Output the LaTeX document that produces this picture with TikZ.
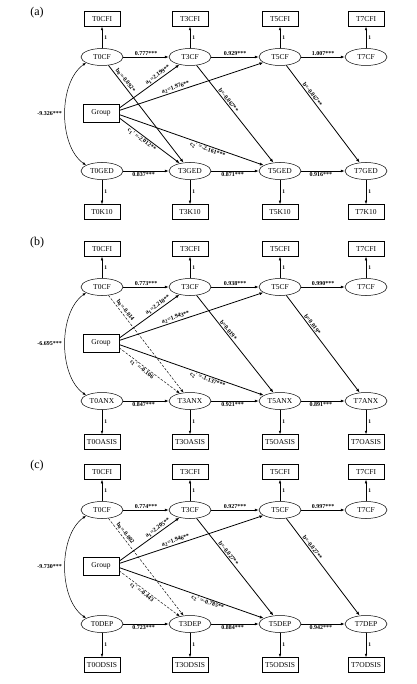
\documentclass[tikz,border=0pt]{standalone}
\usepackage{fontspec}
\setmainfont{Liberation Serif}
\usetikzlibrary{arrows.meta,shapes.geometric}
\tikzset{
  lat/.style={ellipse, draw, line width=0.5pt, minimum width=42pt, minimum height=17pt, inner sep=0pt, font=\fontsize{7.5}{8}\selectfont},
  obs/.style={rectangle, draw, line width=0.5pt, minimum width=36pt, minimum height=15pt, inner sep=1.5pt, font=\fontsize{7.5}{8}\selectfont},
  grp/.style={obs, minimum height=18pt},
  main/.style={draw, line width=0.8pt, -{Latex[length=4pt,width=3pt]}},
  indarr/.style={draw, line width=0.5pt, -{Latex[length=3.5pt,width=2.6pt]}},
  covarr/.style={draw, line width=0.5pt, {Latex[length=3.5pt,width=2.6pt]}-{Latex[length=3.5pt,width=2.6pt]}},
  dsh/.style={line width=0.45pt, dash pattern=on 2.5pt off 1.5pt},
  num/.style={font=\bfseries\fontsize{6}{7}\selectfont, inner sep=1pt},
  one/.style={right, font=\bfseries\fontsize{5.5}{6}\selectfont, inner sep=2pt},
  plab/.style={font=\fontsize{12}{13}\selectfont}
}
\newcommand\setcfvals[7]{\def\nCFa{#1}\def\nCFb{#2}\def\nCFc{#3}\def\nOa{#4}\def\nOb{#5}\def\nOc{#6}\def\nCov{#7}}
\newcommand\setpathvals[7]{\def\nBz{#1}\def\nAa{#2}\def\nAb{#3}\def\nBa{#4}\def\nBb{#5}\def\nCa{#6}\def\nCb{#7}}
\newcommand\sempanel[5]{%
\begin{scope}[yshift=-#2pt]
  \node[plab] (#1lab) at (37,-13) {(#3)};
  \foreach \i/\x in {0/102,3/190,5/280,7/366}{
    \node[lat] (#1cf\i) at (\x,-57) {T\i CF};
    \node[obs] (#1cfi\i) at (\x,-19) {T\i CFI};
    \node[lat] (#1o\i) at (\x,-171) {T\i #4};
    \node[obs] (#1in\i) at (\x,-212) {T\i #5};
    \draw[indarr] (#1cf\i) -- node[one]{1} (#1cfi\i);
    \draw[indarr] (#1o\i) -- node[one]{1} (#1in\i);
  }
  \node[grp] (#1g) at (101,-113) {Group};
  \draw[main] (#1cf0) -- node[num,above]{\nCFa} (#1cf3);
  \draw[main] (#1cf3) -- node[num,above]{\nCFb} (#1cf5);
  \draw[main] (#1cf5) -- node[num,above]{\nCFc} (#1cf7);
  \draw[main] (#1o0) -- node[num,below,pos=.45]{\nOa} (#1o3);
  \draw[main] (#1o3) -- node[num,below,pos=.45]{\nOb} (#1o5);
  \draw[main] (#1o5) -- node[num,below,pos=.45]{\nOc} (#1o7);
  \draw[covarr] (#1cf0.200) to[out=215,in=145,looseness=0.85] node[num,left,inner sep=3pt]{\nCov} (#1o0.160);
  \draw[ns] (#1cf0) -- node[num,sloped,above,pos=.18]{b\textsubscript{0}=\nBz} (#1o3);
  \draw[main] (#1g.15) -- node[num,sloped,above,pos=.68]{a\textsubscript{1}=\nAa} (#1cf3);
  \draw[main] (#1g.8) -- node[num,sloped,above,pos=.4]{a\textsubscript{2}=\nAb} (#1cf5);
  \draw[main] (#1cf3) -- node[num,sloped,above,pos=.38]{b=\nBa} (#1o5);
  \draw[main] (#1cf5) -- node[num,sloped,above,pos=.32]{b=\nBb} (#1o7);
  \draw[main] (#1g.-5) -- node[num,sloped,below,pos=.62]{c\textsubscript{2}′ =\nCb} (#1o5);
  \draw[ns] (#1g.-15) -- node[num,sloped,below,pos=.41]{c\textsubscript{1}′ =\nCa} (#1o3);
\end{scope}}
\begin{document}
\begin{tikzpicture}[x=1pt,y=1pt]
  \useasboundingbox (0,0) rectangle (416,-684);
  % panel (a)
  \tikzset{ns/.style={main}}
  \setcfvals{0.777***}{0.929***}{1.007***}{0.837***}{0.871***}{0.916***}{-9.326***}
  \setpathvals{-0.092*}{2.199**}{1.976**}{-0.067**}{-0.067**}{-2.012**}{-2.161***}
  \sempanel{a}{0}{a}{GED}{K10}
  % panel (b)
  \tikzset{ns/.style={indarr,dsh}}
  \setcfvals{0.773***}{0.938***}{0.990***}{0.847***}{0.921***}{0.891***}{-6.695***}
  \setpathvals{-0.014}{2.210**}{1.943**}{0.019*}{0.019*}{-0.106}{-1.137***}
  \sempanel{b}{230}{b}{ANX}{OASIS}
  % panel (c)
  \setcfvals{0.774***}{0.927***}{0.997***}{0.723***}{0.884***}{0.942***}{-9.730***}
  \setpathvals{-0.002}{2.205**}{1.946**}{-0.027**}{-0.027**}{-0.443}{-0.785**}
  \sempanel{c}{453}{c}{DEP}{ODSIS}
\end{tikzpicture}
\end{document}
